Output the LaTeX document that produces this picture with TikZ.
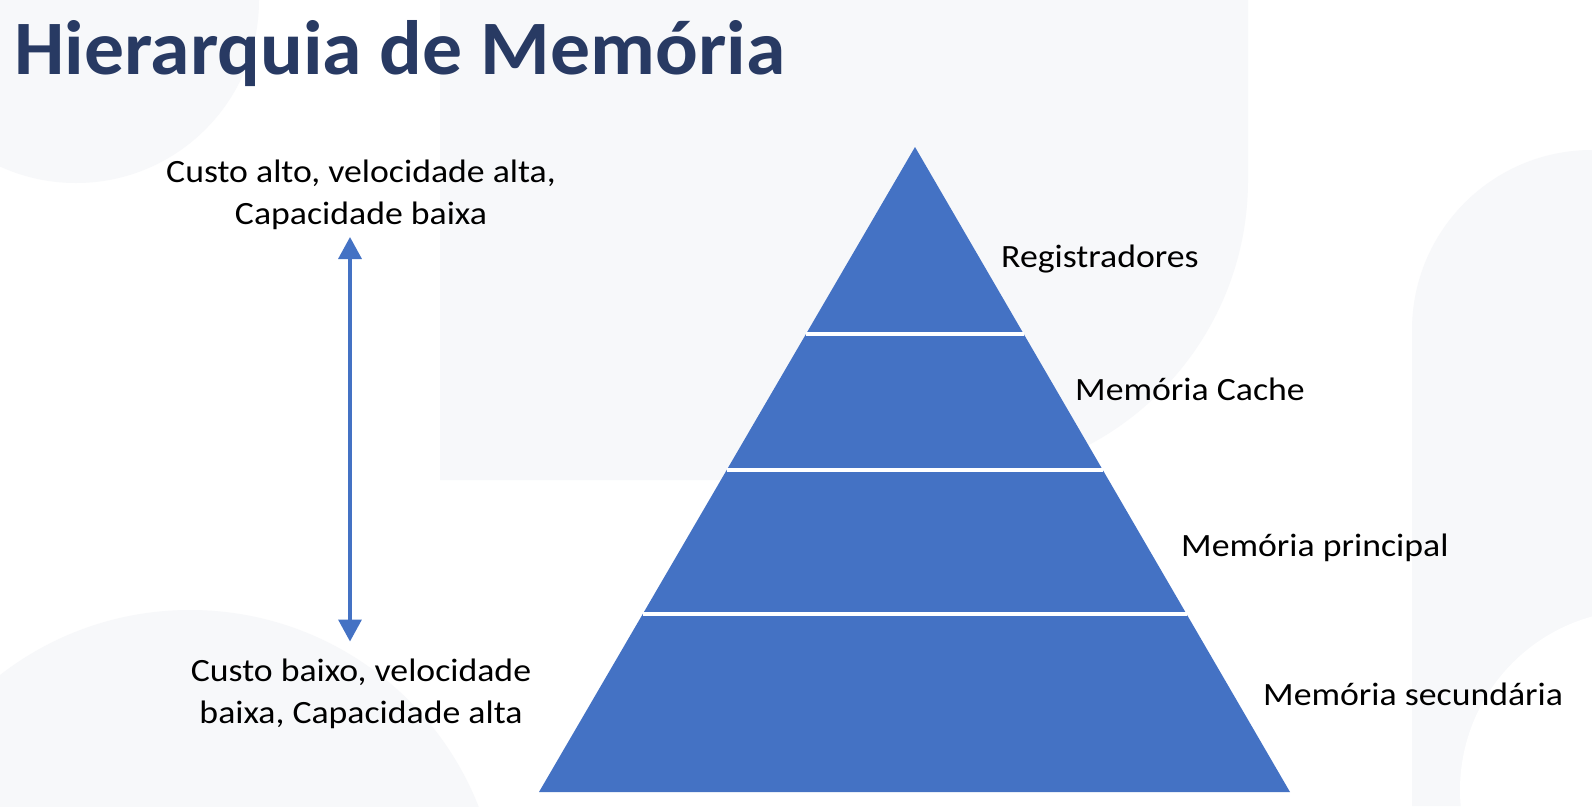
\documentclass[tikz,border=0pt]{standalone}
\usepackage{fontspec}
\setmainfont{Carlito}[FakeStretch=1.1]
\newfontfamily\titlefont{Carlito}[FakeStretch=1.035]
\usetikzlibrary{arrows.meta,calc}
\definecolor{pyrblue}{HTML}{4472C4}
\definecolor{titlenavy}{HTML}{283A63}
\definecolor{bgshape}{RGB}{247,248,250}
\tikzset{
  titletext/.style={font=\titlefont\bfseries\fontsize{77}{80}\selectfont, text=titlenavy, inner sep=0pt},
  bodytext/.style={font=\fontsize{32.5}{41.5}\selectfont, text=black, inner sep=0pt},
  sidetext/.style={bodytext, align=center},
  tierlabel/.style={bodytext, anchor=base west},
  pyr/.style={fill=pyrblue},
  divider/.style={draw=white, line width=4pt},
  bothways/.style={draw=pyrblue, line width=3.5pt,
    {Triangle[width=23pt,length=22pt]}-{Triangle[width=23pt,length=22pt]}},
  bgpart/.style={fill=bgshape}
}
\begin{document}
\begin{tikzpicture}[x=1pt,y=-1pt]
\useasboundingbox (0,0) rectangle (1592,806);
\fill[white] (0,0) rectangle (1592,806);
% faint background decoration
\begin{scope}
\clip (0,0) rectangle (1592,806);
\fill[bgpart] (76,0) circle[radius=183pt];
\fill[bgpart] (440,0) -- (1248,0) -- (1248,180)
  .. controls (1248,345.7) and (1113.7,480) .. (948,480) -- (440,480) -- cycle;
\fill[bgpart] (1412,806) -- (1412,330)
  .. controls (1412,230.6) and (1492.6,150) .. (1592,150) -- (1592,806) -- cycle;
\fill[white] (1640,790) circle[radius=180pt];
\fill[bgpart] (190,920) circle[radius=310pt];
\end{scope}

% title
\node[titletext, anchor=base west] (title) at (14,74) {Hierarquia de Memória};

% left texts and arrow
\node[sidetext, anchor=base] (hi) at (361,224) {Custo alto, velocidade alta,\\Capacidade baixa};
\node[sidetext, anchor=base] (lo) at (361,723) {Custo baixo, velocidade\\baixa, Capacidade alta};
\coordinate (atop) at (350,237);
\coordinate (abot) at (350,641.5);
\draw[bothways] (atop) -- (abot);

% pyramid
\coordinate (apex) at (915,147);
\coordinate (bl) at (539,792);
\coordinate (br) at (1290,792);
\fill[pyr] (apex) -- (bl) -- (br) -- cycle;
\foreach \t in {0.29,0.5008,0.724}
  \draw[divider] ($(apex)!\t!(bl)$) -- ($(apex)!\t!(br)$);

% tier labels
\node[tierlabel] (reg) at (1001,267) {Registradores};
\node[tierlabel] (cache) at (1075,400) {Memória Cache};
\node[tierlabel] (main) at (1181,556.5) {Memória principal};
\node[tierlabel] (sec) at (1263,705) {Memória secundária};
\end{tikzpicture}
\end{document}
